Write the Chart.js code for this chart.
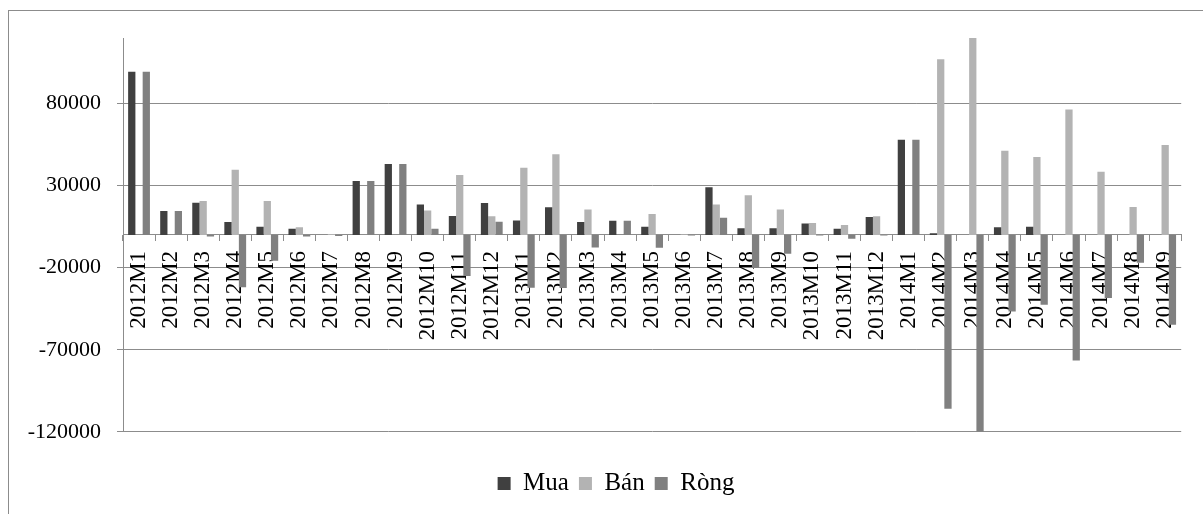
<!DOCTYPE html>
<html>
<head>
<meta charset="utf-8">
<script src="https://cdn.jsdelivr.net/npm/chart.js@4/dist/chart.umd.min.js"></script>
<style>
  html, body { margin: 0; padding: 0; background: #ffffff; }
  #wrap { width: 1203px; height: 514px; position: relative; }
</style>
</head>
<body>
<div id="wrap"><canvas id="c" width="1203" height="514"></canvas></div>
<script>
// Monthly periods
const categories = [
  '2012M1','2012M2','2012M3','2012M4','2012M5','2012M6','2012M7','2012M8','2012M9','2012M10','2012M11','2012M12',
  '2013M1','2013M2','2013M3','2013M4','2013M5','2013M6','2013M7','2013M8','2013M9','2013M10','2013M11','2013M12',
  '2014M1','2014M2','2014M3','2014M4','2014M5','2014M6','2014M7','2014M8','2014M9'
];

// Buy
const mua = [
  99500, 14500, 19600, 7800, 4900, 3700, 0, 32800, 43200, 18500, 11500, 19400,
  8800, 16800, 7800, 8600, 4900, 0, 29100, 4000, 4000, 7000, 3700, 10900,
  58000, 1000, 0, 4600, 4900, 0, 0, 0, 0
];

// Sell
const ban = [
  0, 0, 20600, 39700, 20600, 4600, 600, 0, 0, 14800, 36500, 11400,
  41000, 49100, 15500, 0, 12700, 400, 18600, 24100, 15500, 7300, 6000, 11300,
  0, 107000, 120000, 51300, 47400, 76500, 38500, 17000, 54800
];

// Net
const rong = [
  99500, 14500, -1000, -31900, -15700, -900, -600, 32800, 43200, 3700, -25000, 8000,
  -32200, -32300, -7700, 8600, -7800, -400, 10500, -20100, -11500, -300, -2300, -400,
  58000, -106000, -120000, -46700, -42500, -76500, -38500, -17000, -54800
];

// Value axis ticks
const yTicks = [-120000, -70000, -20000, 30000, 80000];
const yMin = -120000;
const yMax = 120000;

const seriesNames = ['Mua', 'Bán', 'Ròng'];
const seriesColors = ['#404040', '#b3b3b3', '#808080'];

const FONT = "'Liberation Serif', 'Times New Roman', serif";
const GRID = '#8c8c8c';

// White background and the frame around the chart
const framePlugin = {
  id: 'frame',
  beforeDraw(chart) {
    const ctx = chart.ctx;
    ctx.save();
    ctx.fillStyle = '#ffffff';
    ctx.fillRect(0, 0, chart.width, chart.height);
    ctx.strokeStyle = GRID;
    ctx.lineWidth = 1;
    ctx.strokeRect(8.5, 10.5, 1300, 700);
    ctx.restore();
  }
};

// Nudge the legend a little to the right of the canvas centre
const legendShift = {
  id: 'legendShift',
  afterLayout(chart) {
    const lg = chart.legend;
    if (lg) { lg.left += 22; lg.right += 22; }
  }
};

new Chart(document.getElementById('c'), {
  type: 'bar',
  data: {
    labels: categories,
    datasets: [mua, ban, rong].map((d, i) => ({
      label: seriesNames[i],
      data: d,
      backgroundColor: seriesColors[i],
      borderWidth: 0,
      barPercentage: 1.0,
      categoryPercentage: 0.68
    }))
  },
  options: {
    responsive: false,
    animation: false,
    devicePixelRatio: 1,
    layout: { padding: { left: 0, right: 15, top: 38, bottom: 8 } },
    plugins: {
      legend: {
        position: 'bottom',
        title: {
          display: true,
          text: '',
          font: { size: 1 },
          padding: { top: 28, bottom: 0 }
        },
        labels: {
          color: '#000000',
          font: { family: FONT, size: 25 },
          boxWidth: 13,
          boxHeight: 13,
          padding: 10
        }
      },
      tooltip: { enabled: false }
    },
    scales: {
      x: {
        position: { y: 0 },
        grid: {
          offset: true,
          drawOnChartArea: false,
          drawTicks: true,
          tickLength: 6,
          color: GRID
        },
        border: { display: true, color: GRID, width: 1 },
        ticks: {
          autoSkip: false,
          minRotation: 90,
          maxRotation: 90,
          padding: 10,
          color: '#000000',
          font: { family: FONT, size: 23 }
        }
      },
      y: {
        min: yMin,
        max: yMax,
        afterFit(scale) { scale.width = 123; },
        afterBuildTicks(scale) { scale.ticks = yTicks.map(v => ({ value: v })); },
        grid: {
          color: GRID,
          drawTicks: true,
          tickLength: 6
        },
        border: { display: true, color: GRID, width: 1 },
        ticks: {
          padding: 16,
          color: '#000000',
          font: { family: FONT, size: 22 },
          callback: v => String(v)
        }
      }
    }
  },
  plugins: [framePlugin, legendShift]
});
</script>
</body>
</html>
